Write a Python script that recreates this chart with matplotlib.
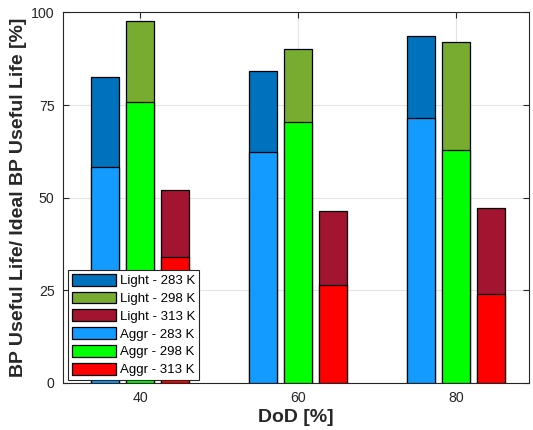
import matplotlib
matplotlib.use("Agg")
import matplotlib.pyplot as plt
import numpy as np

plt.rcParams['font.family'] = ['Liberation Sans', 'DejaVu Sans']

dod = [40, 60, 80]
temps = ['283 K', '298 K', '313 K']
light_283 = [82.5, 84.2, 93.6]
light_298 = [97.8, 90.2, 91.9]
light_313 = [52.1, 46.3, 47.3]
aggr_283 = [58.2, 62.3, 71.5]
aggr_298 = [75.7, 70.3, 62.9]
aggr_313 = [33.9, 26.3, 24.0]

light = [light_283, light_298, light_313]
aggr = [aggr_283, aggr_298, aggr_313]
light_colors = ['#0072BD', '#77AC30', '#A2142F']
aggr_colors = ['#139BFF', '#00FF00', '#FF0000']
offsets = [-4.4, 0.0, 4.45]
width = 3.5

fig = plt.figure(figsize=(5.33, 4.30), dpi=100)
ax = fig.add_axes([0.118, 0.110, 0.874, 0.861])
ax.set_axisbelow(True)
x = np.array(dod, dtype=float)

handles = []
for i in range(3):
    h = ax.bar(x + offsets[i], light[i], width=width, color=light_colors[i],
               edgecolor='black', linewidth=0.9, label=f'Light - {temps[i]}', zorder=2)
    handles.append(h)
for i in range(3):
    h = ax.bar(x + offsets[i], aggr[i], width=width, color=aggr_colors[i],
               edgecolor='black', linewidth=0.9, label=f'Aggr - {temps[i]}', zorder=3)
    handles.append(h)

ax.set_xlim(30.25, 89.2)
ax.set_ylim(0, 100)
ax.set_xticks(dod)
ax.set_yticks([0, 25, 50, 75, 100])
ax.grid(True, color='#e3e3e3', linewidth=0.8)
ax.tick_params(direction='in', length=4, width=0.8, top=True, right=True,
               labelsize=10.2, labelcolor='#262626', color='#262626', pad=6)
for s in ax.spines.values():
    s.set_color('#262626')
    s.set_linewidth(0.8)

ax.set_xlabel('DoD [%]', fontsize=14, fontweight='bold', color='#262626', labelpad=3)
ax.set_ylabel('BP Useful Life/ Ideal BP Useful Life [%]', fontsize=14,
              fontweight='bold', color='#262626', labelpad=3)

leg = ax.legend(handles=handles, loc='lower left', bbox_to_anchor=(0.012, 0.007),
                borderaxespad=0, fontsize=9.5, handlelength=3.3, handleheight=1.0,
                handletextpad=0.3, labelspacing=0.33, borderpad=0.3,
                fancybox=False, framealpha=1, edgecolor='#262626')
leg.get_frame().set_linewidth(0.8)
leg.set_zorder(5)

fig.savefig('out.png', dpi=100)
